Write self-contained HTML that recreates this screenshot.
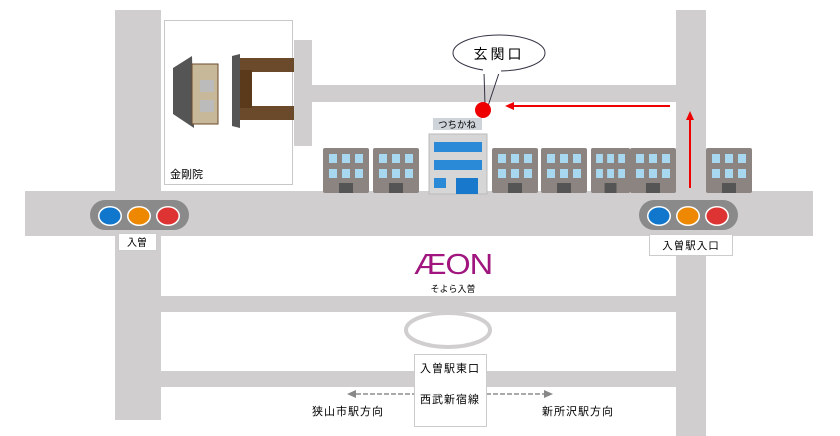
<!DOCTYPE html>
<html><head><meta charset="utf-8"><style>
body{margin:0;background:#fff}
svg{display:block}
text{font-family:"Liberation Sans","Noto Sans CJK JP",sans-serif}
</style></head><body>
<svg width="840" height="436" viewBox="0 0 840 436" xmlns="http://www.w3.org/2000/svg">
<defs>
<g id="bld">
<rect x="0" y="0" width="46" height="45" rx="2" fill="#8c8480"/>
<g fill="#a8d8f0">
<rect x="6" y="6" width="8" height="9"/><rect x="19" y="6" width="8" height="9"/><rect x="32" y="6" width="8" height="9"/>
<rect x="6" y="21" width="8" height="9"/><rect x="19" y="21" width="8" height="9"/><rect x="32" y="21" width="8" height="9"/>
</g>
<rect x="16" y="35" width="14" height="10" fill="#555"/>
</g>
<g id="tl">
<rect x="0" y="0" width="99" height="30" rx="15" fill="#8a8a8a"/>
<ellipse cx="20" cy="16" rx="12" ry="10" fill="#fff"/><ellipse cx="20" cy="16" rx="10.5" ry="8.5" fill="#1177cc"/>
<ellipse cx="49" cy="16" rx="12" ry="10" fill="#fff"/><ellipse cx="49" cy="16" rx="10.5" ry="8.5" fill="#ee8800"/>
<ellipse cx="78" cy="16" rx="12" ry="10" fill="#fff"/><ellipse cx="78" cy="16" rx="10.5" ry="8.5" fill="#dd3333"/>
</g>
</defs>
<g fill="#d0cece">
<rect x="115" y="10" width="46" height="410"/>
<rect x="25" y="191" width="788" height="45"/>
<rect x="676" y="10" width="30" height="426"/>
<rect x="294" y="40" width="18" height="106"/>
<rect x="294" y="85" width="412" height="17"/>
<rect x="161" y="296" width="515" height="16"/>
<rect x="161" y="371" width="515" height="16"/>
</g>
<rect x="164.5" y="20.5" width="128" height="164" fill="#fff" stroke="#c8c8c8"/>
<g>
<polygon points="173,68 192,56 194,128 173,114" fill="#555"/>
<rect x="192" y="64" width="26" height="60" fill="#c8b89a" stroke="#6a4a2a"/>
<rect x="200" y="80" width="14" height="12" fill="#bbb"/>
<rect x="200" y="100" width="14" height="12" fill="#bbb"/>
<polygon points="232,56 240,54 240,128 232,126" fill="#555"/>
<rect x="240" y="58" width="54" height="14" fill="#6a4a2a"/>
<rect x="240" y="106" width="54" height="14" fill="#6a4a2a"/>
<rect x="240" y="70" width="12" height="38" fill="#5a3a1a"/>
</g>
<text x="170" y="178" font-size="11">金剛院</text>
<use href="#bld" x="323" y="148"/><use href="#bld" x="373" y="148"/>
<use href="#bld" x="492" y="148"/><use href="#bld" x="541" y="148"/>
<use href="#bld" x="591" y="148" transform="translate(591 148) scale(0.85 1) translate(-591 -148)"/>
<use href="#bld" x="630" y="148"/>
<use href="#bld" x="706" y="148"/>
<rect x="429" y="134" width="58" height="60" fill="#d6d6d6" stroke="#bbb"/>
<rect x="433" y="118" width="49" height="12" fill="#cfd4da"/>
<text x="457" y="128" font-size="9.5" text-anchor="middle">つちかね</text>
<rect x="434" y="142" width="48" height="10" fill="#2a8ad8"/>
<rect x="434" y="160" width="48" height="10" fill="#2a8ad8"/>
<rect x="434" y="178" width="12" height="10" fill="#2a8ad8"/>
<rect x="456" y="178" width="22" height="16" fill="#1878cc"/>
<path d="M485,105 L484,72 M488,106 L500,70" stroke="#334" fill="none"/>
<ellipse cx="499" cy="53" rx="46" ry="18" fill="#fff" stroke="#334"/>
<rect x="483" y="68" width="18" height="6" fill="#fff"/>
<text x="499" y="59" font-size="14" text-anchor="middle" letter-spacing="3">玄関口</text>
<circle cx="483" cy="110" r="8" fill="#ee0000"/>
<line x1="670" y1="106" x2="512" y2="106" stroke="#ee0000" stroke-width="2"/>
<polygon points="505,106 514,102 514,110" fill="#ee0000"/>
<line x1="690" y1="188" x2="690" y2="118" stroke="#ee0000" stroke-width="2"/>
<polygon points="690,111 686,120 694,120" fill="#ee0000"/>
<use href="#tl" x="90" y="200"/>
<use href="#tl" x="639" y="200"/>
<rect x="118.5" y="233.5" width="38" height="17" fill="#fff" stroke="#ccc"/>
<text x="137" y="246" font-size="10" text-anchor="middle">入曽</text>
<rect x="649.5" y="234.5" width="83" height="21" fill="#fff" stroke="#ccc"/>
<text x="691" y="249" font-size="10.5" text-anchor="middle" letter-spacing="1">入曽駅入口</text>
<text x="453" y="274" font-size="29" text-anchor="middle" fill="#a0157e" letter-spacing="-1" textLength="78" lengthAdjust="spacingAndGlyphs">ÆON</text>
<text x="453" y="292" font-size="9" text-anchor="middle">そよら入曽</text>
<ellipse cx="448" cy="330" rx="42" ry="17" fill="none" stroke="#d0cece" stroke-width="4"/>
<line x1="356" y1="394" x2="414" y2="394" stroke="#aaa" stroke-width="2" stroke-dasharray="5,2"/>
<line x1="486" y1="394" x2="544" y2="394" stroke="#aaa" stroke-width="2" stroke-dasharray="5,2"/>
<polygon points="347,394 356,390 356,398" fill="#888"/>
<polygon points="553,394 544,390 544,398" fill="#888"/>
<rect x="414.5" y="354.5" width="72" height="72" fill="#fff" stroke="#ccc"/>
<text x="450" y="372" font-size="11" text-anchor="middle" letter-spacing="1">入曽駅東口</text>
<text x="450" y="403" font-size="11" text-anchor="middle" letter-spacing="1">西武新宿線</text>
<text x="348" y="415" font-size="11" text-anchor="middle" letter-spacing="1">狭山市駅方向</text>
<text x="578" y="415" font-size="11" text-anchor="middle" letter-spacing="1">新所沢駅方向</text>
</svg>
</body></html>
